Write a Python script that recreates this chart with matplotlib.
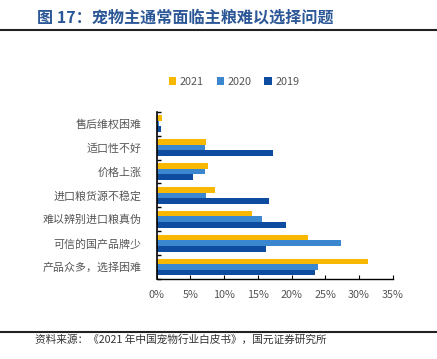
import matplotlib
matplotlib.use("Agg")
import matplotlib.pyplot as plt
import numpy as np

plt.rcParams['font.family'] = ['Noto Sans CJK SC', 'DejaVu Sans']

categories = ["售后维权困难", "适口性不好", "价格上涨", "进口粮货源不稳定",
              "难以辨别进口粮真伪", "可信的国产品牌少", "产品众多，选择困难"]
v2021 = [0.8, 7.3, 7.6, 8.7, 14.1, 22.5, 31.3]
v2020 = [0.4, 7.2, 7.2, 7.3, 15.6, 27.3, 23.9]
v2019 = [0.6, 17.3, 5.4, 16.7, 19.2, 16.2, 23.5]
series = [("2021", v2021, "#F9B800"), ("2020", v2020, "#3A87D0"), ("2019", v2019, "#0D4C9E")]
xticks = [0, 5, 10, 15, 20, 25, 30, 35]

W, H = 437, 359
fig = plt.figure(figsize=(W/100, H/100), dpi=100)
ax = fig.add_axes([156.7/W, 1-279/H, (392.7-156.7)/W, (279-111.7)/H])

n = len(categories)
y = np.arange(n)
h = 0.235
for i, (lab, vals, col) in enumerate(series):
    ax.barh(y + (i-1)*h, vals, height=h, color=col, label=lab, zorder=2)

ax.set_ylim(n-0.5, -0.5)
ax.set_xlim(0, 35)
ax.set_yticks(y)
ax.set_yticklabels(categories, fontsize=7.9, color="#555555")
ax.set_yticks(np.arange(-0.5, n, 1), minor=True)
ax.tick_params(axis='y', which='major', length=0, pad=11)
ax.tick_params(axis='y', which='minor', length=3, direction='in', width=1)
ax.set_xticks(xticks)
ax.set_xticklabels([f"{t}%" for t in xticks], fontsize=7.8, color="#555555")
ax.tick_params(axis='x', length=3, direction='in', width=0.8, pad=8)
for s in ['top', 'right']:
    ax.spines[s].set_visible(False)
ax.spines['left'].set_linewidth(1.2)
ax.spines['bottom'].set_linewidth(1.0)

leg = fig.legend(loc='center', bbox_to_anchor=(234/W, 1-82/H), ncol=3, frameon=False,
                 fontsize=7.8, handlelength=0.7, handleheight=0.7, handletextpad=0.3,
                 columnspacing=1.2)
for t in leg.get_texts():
    t.set_color("#555555")

fig.text(37/W, 1-18/H, "图 17：宠物主通常面临主粮难以选择问题", fontsize=11.6, fontweight='bold',
         color="#2B5797", va='center', ha='left')
fig.add_artist(plt.Line2D([0, 1], [1-29.5/H, 1-29.5/H], color="#222222", lw=1.5))
fig.add_artist(plt.Line2D([0, 1], [1-331.5/H, 1-331.5/H], color="#222222", lw=1.5))
fig.text(35/W, 1-339/H, "资料来源：《2021 年中国宠物行业白皮书》，国元证券研究所", fontsize=7.7,
         color="#333333", va='center', ha='left')

fig.savefig("out.png", dpi=100)
